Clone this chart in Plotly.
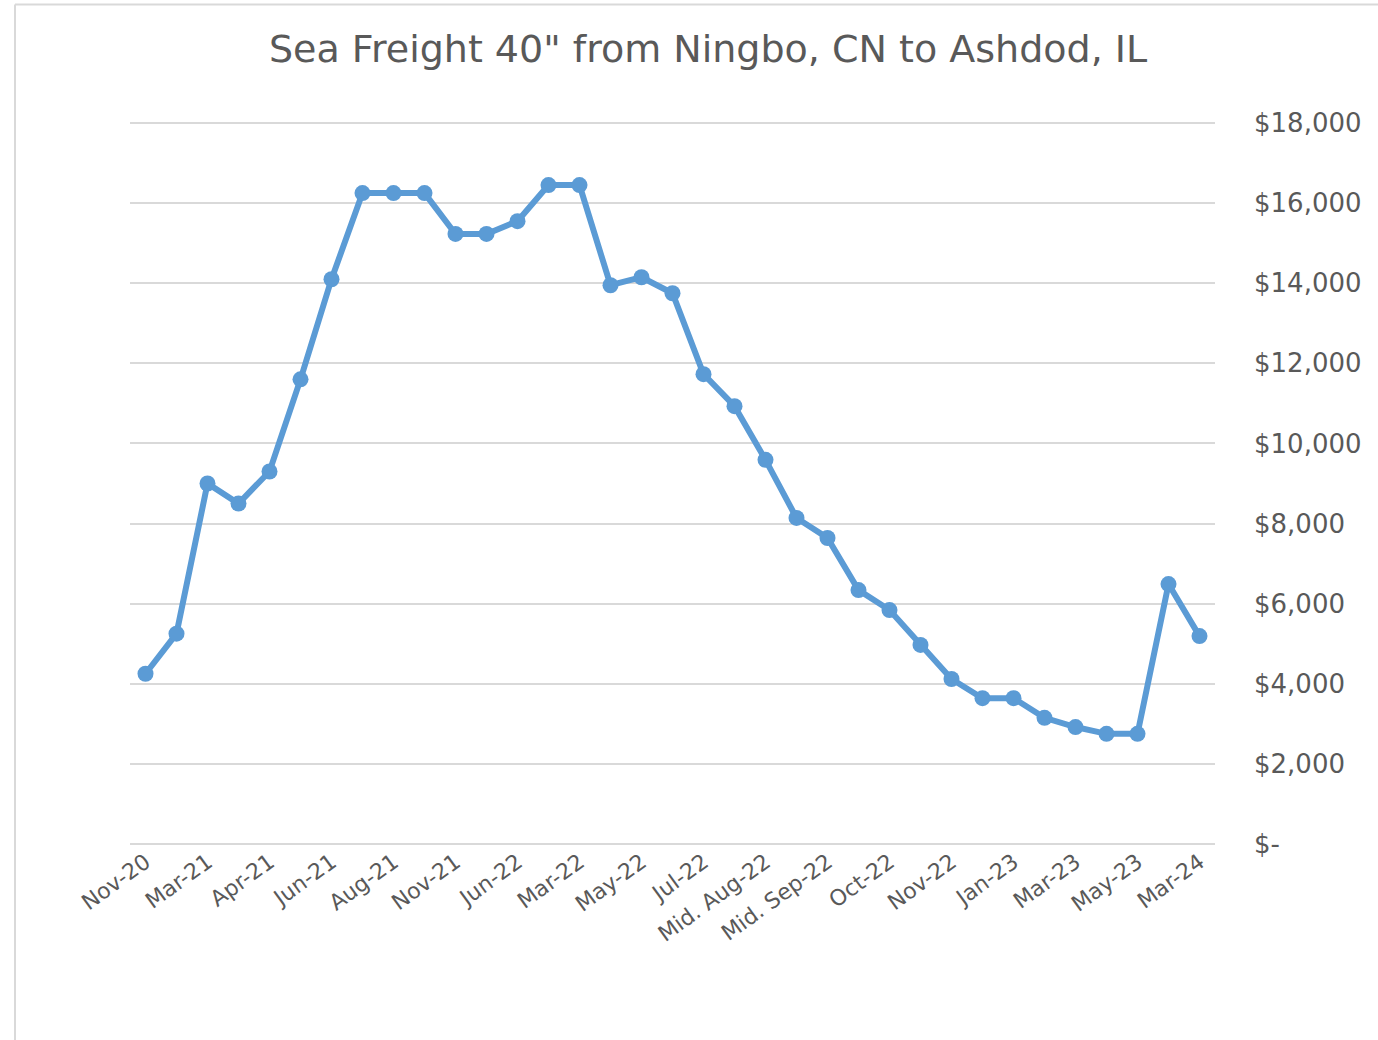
import plotly.graph_objects as go

categories = [
    "Nov-20", "Jan-21", "Mar-21", "Mid. Mar-21", "Apr-21", "May-21", "Jun-21", "Jul-21",
    "Aug-21", "Sep-21", "Nov-21", "Dec-21", "Jun-22", "Feb-22", "Mar-22", "Apr-22",
    "May-22", "Mid. Jun-22", "Jul-22", "Aug-22", "Mid. Aug-22", "Sep-22", "Mid. Sep-22",
    "Late Sep-22", "Oct-22", "Mid. Oct-22", "Nov-22", "Dec-22", "Jan-23", "Feb-23",
    "Mar-23", "Apr-23", "May-23", "Jan-24", "Mar-24",
]
freight_usd = [
    4250, 5250, 9000, 8500, 9300, 11600, 14100, 16250, 16250, 16250, 15230, 15230,
    15550, 16450, 16450, 13950, 14150, 13750, 11730, 10930, 9590, 8140, 7640, 6340,
    5840, 4970, 4120, 3640, 3640, 3150, 2920, 2750, 2750, 6490, 5190,
]
x_tick_labels = categories[::2]
y_tick_values = [0, 2000, 4000, 6000, 8000, 10000, 12000, 14000, 16000, 18000]
y_tick_labels = ["$-", "$2,000", "$4,000", "$6,000", "$8,000", "$10,000",
                 "$12,000", "$14,000", "$16,000", "$18,000"]

title_text = 'Sea Freight 40" from Ningbo, CN to Ashdod, IL'

FONT = "DejaVu Sans"
GRAY = "#595959"
BLUE = "#5B9BD5"
GRID = "#D9D9D9"

fig = go.Figure()
fig.add_trace(go.Scatter(
    x=categories, y=freight_usd, mode="lines+markers",
    line=dict(color=BLUE, width=6),
    marker=dict(color=BLUE, size=16),
    showlegend=False, hoverinfo="x+y",
))

fig.update_layout(
    width=1378, height=1040,
    margin=dict(l=130, r=163, t=121, b=196),
    paper_bgcolor="white", plot_bgcolor="white",
    font=dict(family=FONT, color=GRAY),
    annotations=[dict(
        text=title_text, xref="paper", yref="paper", x=0.5, xshift=35, y=1.0,
        yshift=72, xanchor="center", yanchor="middle", showarrow=False,
        font=dict(family=FONT, size=38, color=GRAY),
    )],
    shapes=[
        dict(type="line", xref="paper", yref="paper", x0=-0.106, x1=1.2, y0=1.161, y1=1.161,
             line=dict(color="#D9D9D9", width=2)),
        dict(type="line", xref="paper", yref="paper", x0=-0.106, x1=-0.106, y0=1.161, y1=-0.3,
             line=dict(color="#D9D9D9", width=2)),
    ],
)

fig.update_xaxes(
    type="category", categoryorder="array", categoryarray=categories,
    range=[-0.5, len(categories) - 0.5],
    tickmode="array", tickvals=x_tick_labels, ticktext=x_tick_labels,
    tickangle=-36, tickfont=dict(family=FONT, size=22, color=GRAY),
    showgrid=False, showline=False, zeroline=False, ticks="",
)
fig.update_yaxes(
    side="right", range=[0, 18050],
    tickmode="array", tickvals=y_tick_values, ticktext=y_tick_labels,
    tickfont=dict(family=FONT, size=26, color=GRAY),
    ticklabelstandoff=38,
    showgrid=True, gridcolor=GRID, gridwidth=1.5,
    zeroline=True, zerolinecolor=GRID, zerolinewidth=1.5,
    showline=False, ticks="",
)

fig.write_html("out.html", config={"displayModeBar": False},
               post_script="document.body.style.margin='0';")
